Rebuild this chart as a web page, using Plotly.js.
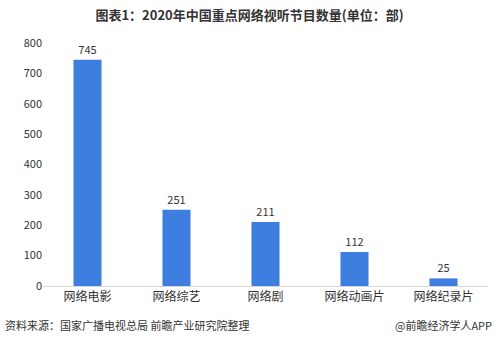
<!DOCTYPE html>
<html><head><meta charset="utf-8">
<script src="https://cdn.plot.ly/plotly-3.0.1.min.js"></script>
<style>body{margin:0;background:#fff}#c{width:499px;height:344px}</style>
</head><body><div id="c"></div>
<script>
var categories = ["网络电影","网络综艺","网络剧","网络动画片","网络纪录片"];
var values = [745, 251, 211, 112, 25];
var yTicks = [0,100,200,300,400,500,600,700,800];
var font = "Noto Sans CJK SC, Microsoft YaHei, sans-serif";
var trace = {
  type: "bar", x: categories, y: values,
  marker: {color: "#3D7EDF", line: {width: 0}},
  width: 0.315,
  text: values.map(String), textposition: "outside",
  textfont: {family: font, size: 11, color: "#333"},
  cliponaxis: false, hoverinfo: "none"
};
var layout = {
  width: 499, height: 344,
  margin: {l: 43, r: 11, t: 43, b: 58},
  paper_bgcolor: "#fff", plot_bgcolor: "#fff",
  showlegend: false,
  title: {text: "<b>图表1：2020年中国重点网络视听节目数量(单位：部)</b>", font: {family: font, size: 13, color: "#333"}, x: 0.5, xanchor: "center", y: 0.955, yanchor: "middle"},
  xaxis: {showline: true, linecolor: "#d9d9d9", linewidth: 1, ticks: "", tickfont: {family: font, size: 12, color: "#333"}, fixedrange: true},
  yaxis: {range: [0, 800], tickvals: yTicks, showgrid: false, zeroline: false, showline: false, ticks: "", ticklen: 0, tickfont: {family: font, size: 11, color: "#333"}, fixedrange: true},
  annotations: [
    {text: "资料来源：国家广播电视总局 前瞻产业研究院整理", xref: "paper", yref: "paper", x: -0.09, y: -0.16, xanchor: "left", yanchor: "middle", showarrow: false, font: {family: font, size: 11, color: "#333"}},
    {text: "@前瞻经济学人APP", xref: "paper", yref: "paper", x: 1.014, y: -0.16, xanchor: "right", yanchor: "middle", showarrow: false, font: {family: font, size: 11, color: "#333"}}
  ]
};
Plotly.newPlot("c", [trace], layout, {displayModeBar: false, staticPlot: true});
</script></body></html>
